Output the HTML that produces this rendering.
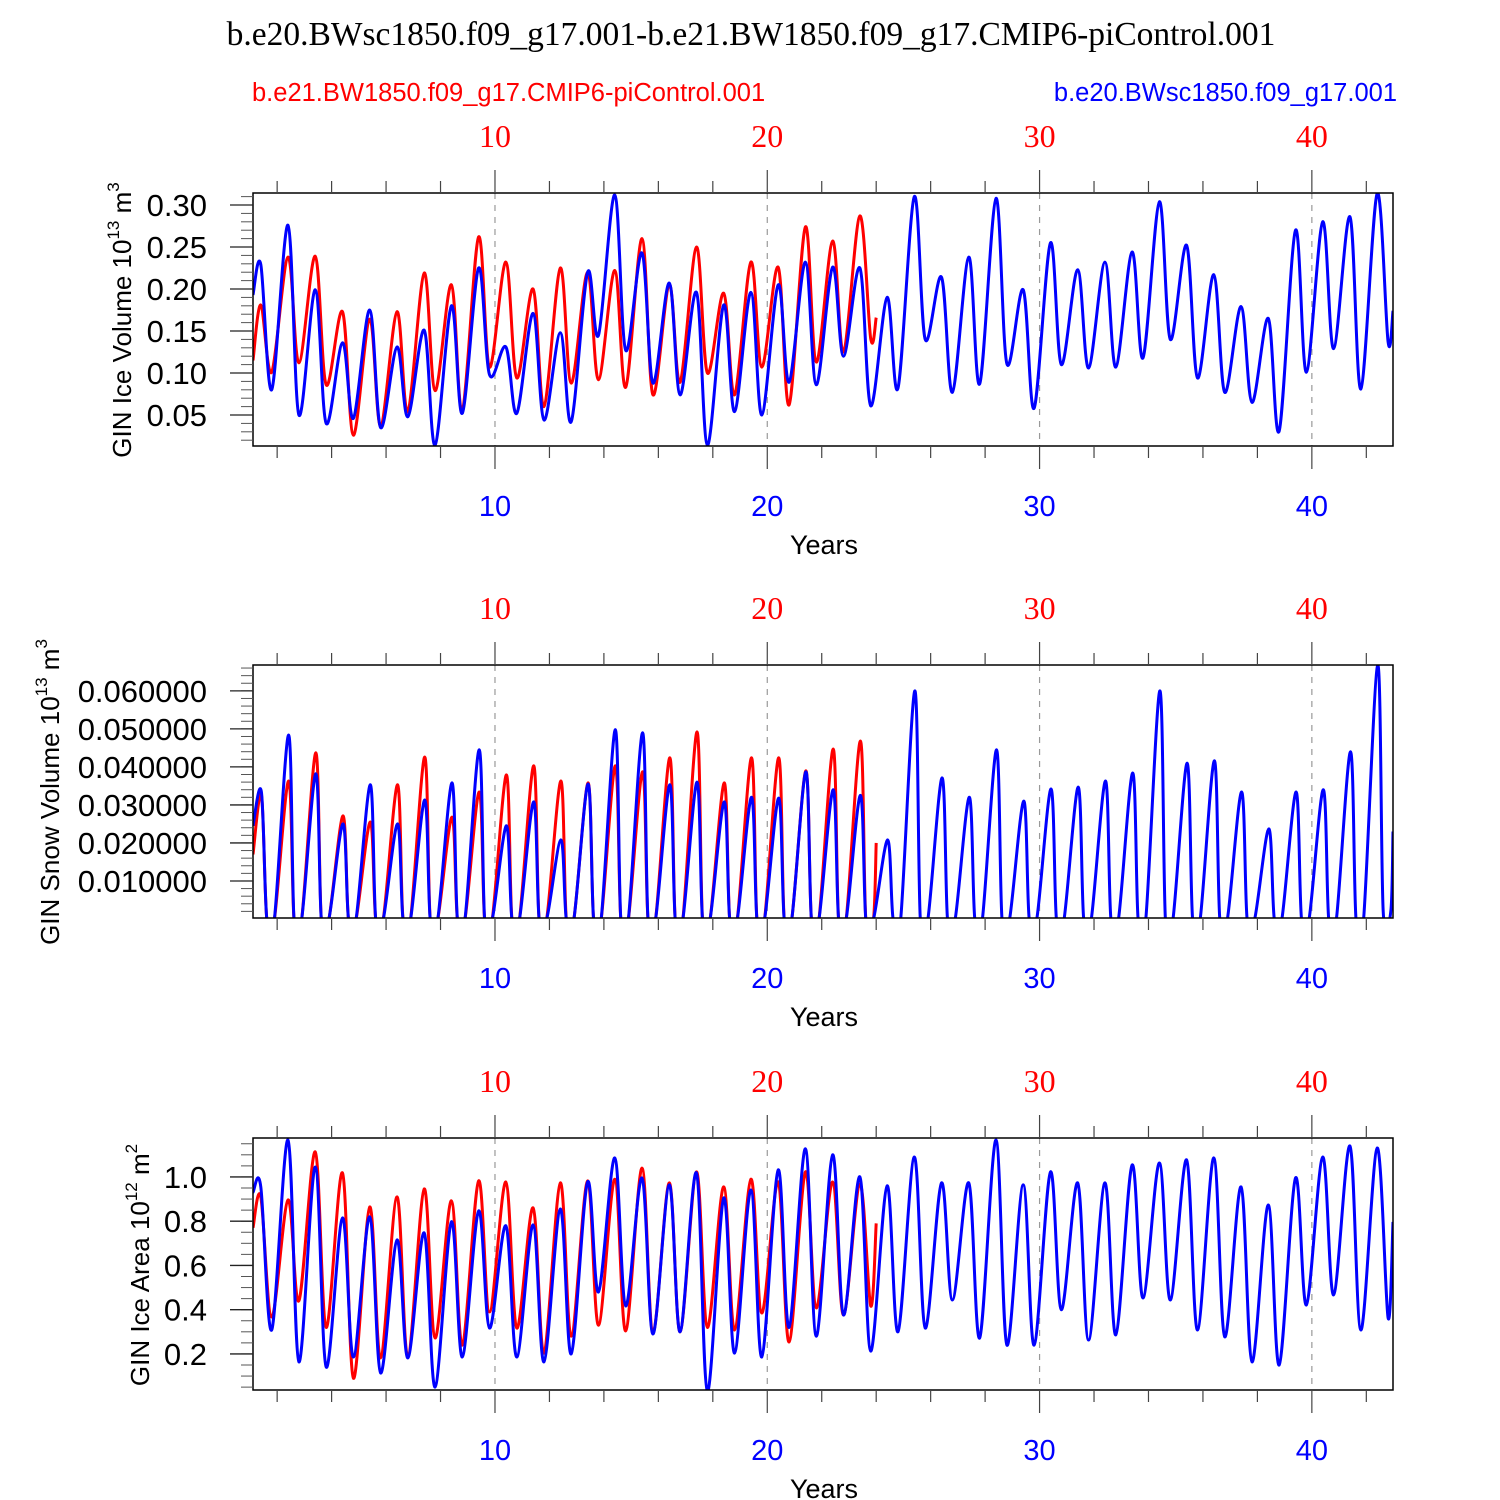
<!DOCTYPE html>
<html><head><meta charset="utf-8"><style>
html,body{margin:0;padding:0;background:#fff}
svg{display:block}
text{font-family:"Liberation Sans",sans-serif}
.serif{font-family:"Liberation Serif",serif}
</style></head><body>
<svg id="chart" width="1500" height="1500" viewBox="0 0 1500 1500" xmlns="http://www.w3.org/2000/svg">
<text class="serif" x="751" y="45" font-size="33.5" text-anchor="middle">b.e20.BWsc1850.f09_g17.001-b.e21.BW1850.f09_g17.CMIP6-piControl.001</text>
<text x="252" y="101" font-size="25.5" fill="#ff0000">b.e21.BW1850.f09_g17.CMIP6-piControl.001</text>
<text x="1397" y="101" font-size="25.5" fill="#0000ff" text-anchor="end">b.e20.BWsc1850.f09_g17.001</text>
</svg>
<script>
// ---- data ----
const volBlueStart = 0.193, volBlueEnd = 0.174;
const volBluePeak = [0.229,0.276,0.199,0.136,0.175,0.131,0.151,0.18,0.225,0.131,0.171,0.148,0.22,0.312,0.243,0.207,0.196,0.181,0.196,0.205,0.232,0.226,0.225,0.19,0.31,0.214,0.238,0.308,0.199,0.255,0.223,0.232,0.244,0.304,0.252,0.217,0.179,0.165,0.27,0.28,0.286,0.314];
const volBlueTrough = [0.08,0.05,0.04,0.046,0.035,0.048,0.014,0.052,0.098,0.052,0.044,0.042,0.145,0.127,0.088,0.074,0.014,0.054,0.05,0.089,0.086,0.12,0.061,0.082,0.14,0.077,0.087,0.111,0.058,0.11,0.106,0.107,0.118,0.14,0.094,0.077,0.065,0.031,0.101,0.129,0.081,0.137];
const volRedStart = 0.115, volRedEnd = 0.166;
const volRedPeak = [0.181,0.238,0.239,0.173,0.164,0.173,0.219,0.205,0.262,0.232,0.2,0.225,0.22,0.222,0.26,0.205,0.25,0.195,0.232,0.226,0.274,0.257,0.287];
const volRedTrough = [0.101,0.112,0.086,0.026,0.037,0.054,0.079,0.055,0.107,0.094,0.06,0.088,0.092,0.083,0.074,0.089,0.1,0.074,0.107,0.062,0.113,0.125,0.141];

const snowBlueStart = 0.0245, snowBlueEnd = 0.023;
const snowBluePeak = [0.0334,0.0484,0.0382,0.025,0.0353,0.025,0.0313,0.0358,0.0445,0.0245,0.0308,0.0208,0.0355,0.0498,0.049,0.0353,0.036,0.0308,0.032,0.0318,0.0387,0.034,0.0325,0.0208,0.06,0.0371,0.032,0.0445,0.031,0.0342,0.0347,0.0363,0.0384,0.06,0.041,0.0416,0.0334,0.0237,0.0334,0.034,0.044,0.0668];
const snowBlueTrough = [0,0,0,0,0,0,0,0,0,0,0,0,0,0,0,0,0,0,0,0,0,0,0,0,0,0,0,0,0,0,0,0,0,0,0,0,0,0,0,0,0,0.002];
const snowRedStart = 0.017, snowRedEnd = 0.02;
const snowRedPeak = [0.0326,0.0363,0.0437,0.0271,0.0255,0.0353,0.0426,0.0268,0.0334,0.0379,0.0403,0.0363,0.0358,0.0403,0.0387,0.0424,0.0492,0.0358,0.0424,0.0424,0.039,0.0447,0.0468];
const snowRedTrough = [0,0,0,0,0,0,0,0,0,0,0,0,0,0,0,0,0,0,0,0,0,0,0];

const areaBlueStart = 0.93, areaBlueEnd = 0.797;
const areaBluePeak = [0.955,1.167,1.045,0.815,0.82,0.715,0.747,0.797,0.846,0.779,0.783,0.855,0.977,1.086,0.995,0.964,1.018,0.905,0.941,1.032,1.127,1.1,1.0,0.96,1.09,0.973,0.973,1.167,0.964,1.023,0.973,0.973,1.054,1.063,1.077,1.086,0.955,0.873,0.995,1.09,1.14,1.131];
const areaBlueTrough = [0.308,0.164,0.141,0.186,0.114,0.182,0.05,0.186,0.317,0.186,0.164,0.2,0.48,0.417,0.29,0.3,0.03,0.204,0.186,0.32,0.28,0.376,0.213,0.3,0.317,0.444,0.272,0.24,0.24,0.4,0.263,0.286,0.453,0.444,0.308,0.277,0.164,0.15,0.421,0.467,0.308,0.363];
const areaRedStart = 0.77, areaRedEnd = 0.79;
const areaRedPeak = [0.91,0.896,1.113,1.018,0.864,0.91,0.946,0.892,0.982,0.977,0.86,0.973,0.982,0.99,1.04,0.973,1.023,0.955,0.99,0.977,1.023,0.977,0.968];
const areaRedTrough = [0.367,0.44,0.32,0.09,0.182,0.186,0.272,0.24,0.39,0.317,0.204,0.28,0.33,0.304,0.295,0.3,0.32,0.308,0.385,0.254,0.408,0.376,0.417];

const xTickLabels = [10,20,30,40];
const volTicks = [0.05,0.10,0.15,0.20,0.25,0.30];
const snowTicks = [0.01,0.02,0.03,0.04,0.05,0.06];
const areaTicks = [0.2,0.4,0.6,0.8,1.0];

// ---- layout ----
const NS = "http://www.w3.org/2000/svg";
const svg = document.getElementById('chart');
const X0 = 253, X1 = 1393, xMin = 1.113, xMax = 42.98, redEndYear = 24.0;
function sx(t){ return X0 + (t - xMin) / (xMax - xMin) * (X1 - X0); }
function mk(tag, attrs, parent){ const e = document.createElementNS(NS, tag); for (const k in attrs) e.setAttribute(k, attrs[k]); (parent||svg).appendChild(e); return e; }

function buildPoints(start, peaks, troughs, endVal, endYear, snow){
  const pts = [[xMin, start]];
  for (let i = 0; i < peaks.length; i++){
    const k = i + 1;
    if (snow){
      pts.push([k + 0.42, peaks[i]]);
      pts.push([k + 0.62, troughs[i]]);
      pts.push([k + 0.9, troughs[i]]);
    } else {
      pts.push([k + 0.4, peaks[i]]);
      pts.push([k + 0.8, troughs[i]]);
    }
  }
  pts.push([endYear, endVal]);
  return pts.filter(p => p[0] >= xMin && p[0] <= xMax);
}

function smoothPath(P){
  let d = 'M' + P[0][0].toFixed(1) + ',' + P[0][1].toFixed(1);
  for (let i = 0; i < P.length - 1; i++){
    const p0 = P[Math.max(0, i-1)], p1 = P[i], p2 = P[i+1], p3 = P[Math.min(P.length-1, i+2)];
    const c1x = p1[0] + (p2[0]-p0[0])/6, c1y = p1[1] + (p2[1]-p0[1])/6;
    const c2x = p2[0] - (p3[0]-p1[0])/6, c2y = p2[1] - (p3[1]-p1[1])/6;
    d += 'C' + c1x.toFixed(1) + ',' + c1y.toFixed(1) + ' ' + c2x.toFixed(1) + ',' + c2y.toFixed(1) + ' ' + p2[0].toFixed(1) + ',' + p2[1].toFixed(1);
  }
  return d;
}

function panel(p){
  const g = mk('g', {});
  
  
  const sy = v => p.y1 - (v - p.vMin) / (p.vMax - p.vMin) * (p.y1 - p.y0);
  xTickLabels.forEach(t => {
    const l = mk('line', {x1:sx(t), x2:sx(t), y1:p.y0, y2:p.y1, stroke:'#999', 'stroke-width':1.2, 'stroke-dasharray':'6,6'}, g);
    
    
  });
  const clipId = 'clip-' + p.name;
  const cp = mk('clipPath', {id: clipId}, g);
  mk('rect', {x:X0, y:p.y0, width:X1-X0, height:p.y1-p.y0}, cp);
  [[p.red,'#ff0000','red-series'],[p.blue,'#0000ff','blue-series']].forEach(s => {
    const P = s[0].map(q => [sx(q[0]), sy(q[1])]);
    const path = mk('path', {d:smoothPath(P), fill:'none', stroke:s[1], 'stroke-width':3, 'stroke-linejoin':'round', 'clip-path':'url(#'+clipId+')'}, g);
    
    
  });
  const fr = mk('rect', {x:X0, y:p.y0, width:X1-X0, height:p.y1-p.y0, fill:'none', stroke:'#000', 'stroke-width':1.5}, g);
  
  
  for (let t = 2; t <= 42; t += 2){
    const x = sx(t), major = t % 10 === 0;
    const L = major ? 23 : 12;
    mk('line', {x1:x, x2:x, y1:p.y0, y2:p.y0 - L, stroke:'#444', 'stroke-width':1.2}, g);
    mk('line', {x1:x, x2:x, y1:p.y1, y2:p.y1 + L, stroke:'#444', 'stroke-width':1.2}, g);
  }
  xTickLabels.forEach(t => {
    const tl = mk('text', {x:sx(t), y:p.y0 - 46, 'font-size':32, 'text-anchor':'middle', fill:'#ff0000', class:'serif'}, g);
    tl.textContent = t;
    
    
    const bl = mk('text', {x:sx(t), y:p.y1 + 70, 'font-size':29, 'text-anchor':'middle', fill:'#0000ff'}, g);
    bl.textContent = t;
    
    
  });
  const xt = mk('text', {x:824, y:p.y1 + 108, 'font-size':27, 'text-anchor':'middle'}, g);
  xt.textContent = 'Years';
  
  
  for (let v = Math.ceil(p.vMin / p.minor) * p.minor; v <= p.vMax + 1e-9; v += p.minor){
    const y = sy(v);
    mk('line', {x1:X0, x2:X0 - 12, y1:y, y2:y, stroke:'#555', 'stroke-width':1}, g);
  }
  p.ticks.forEach(v => {
    const y = sy(v);
    mk('line', {x1:X0, x2:X0 - 23, y1:y, y2:y, stroke:'#222', 'stroke-width':1.3}, g);
    const tl = mk('text', {x:207, y:y + 11, 'font-size':31, 'text-anchor':'end'}, g);
    tl.textContent = v.toFixed(p.dec);
    
    
  });
  const yt = mk('text', {x:0, y:0, 'font-size':26, 'text-anchor':'middle', transform:'translate(' + p.tx + ',' + p.ty + ') rotate(-90)'}, g);
  yt.innerHTML = p.title + ' 10<tspan font-size="17" dy="-12">' + p.e1 + '</tspan><tspan dy="12"> m</tspan><tspan font-size="17" dy="-12">' + p.e2 + '</tspan>';
  
  
}

panel({name:'ice-volume-panel', y0:193, y1:446, vMin:0.0131, vMax:0.3143, minor:0.01, ticks:volTicks, dec:2,
  title:'GIN Ice Volume', e1:'13', e2:'3', tx:131, ty:320,
  blue:buildPoints(volBlueStart, volBluePeak, volBlueTrough, volBlueEnd, xMax, false),
  red:buildPoints(volRedStart, volRedPeak, volRedTrough, volRedEnd, redEndYear, false)});
panel({name:'snow-volume-panel', y0:665, y1:918, vMin:0.00026, vMax:0.0668, minor:0.002, ticks:snowTicks, dec:6,
  title:'GIN Snow Volume', e1:'13', e2:'3', tx:59, ty:792,
  blue:buildPoints(snowBlueStart, snowBluePeak, snowBlueTrough, snowBlueEnd, xMax, true),
  red:buildPoints(snowRedStart, snowRedPeak, snowRedTrough, snowRedEnd, redEndYear, true)});
panel({name:'ice-area-panel', y0:1138, y1:1390, vMin:0.037, vMax:1.176, minor:0.05, ticks:areaTicks, dec:1,
  title:'GIN Ice Area', e1:'12', e2:'2', tx:149, ty:1265,
  blue:buildPoints(areaBlueStart, areaBluePeak, areaBlueTrough, areaBlueEnd, xMax, false),
  red:buildPoints(areaRedStart, areaRedPeak, areaRedTrough, areaRedEnd, redEndYear, false)});
</script>
</body></html>
